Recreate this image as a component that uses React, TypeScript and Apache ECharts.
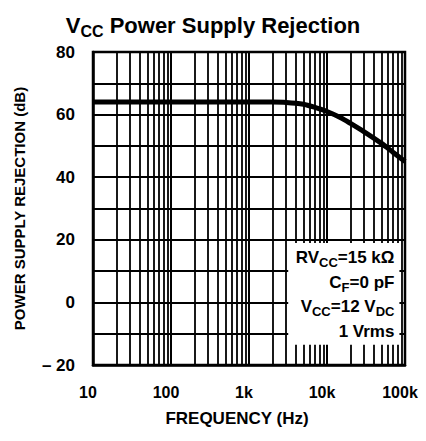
import React, { useEffect, useRef } from 'react';
import * as echarts from 'echarts';

// Curve: Vcc power supply rejection (dB) vs frequency (Hz)
const frequencies = [10, 100, 1000, 2000, 3000, 5000, 7000, 10000, 15000, 20000, 30000, 50000, 70000, 100000];
const rejectionDb = [64, 64, 64, 64, 63.9, 63.3, 62.3, 61, 59, 57.2, 54.5, 50.8, 48, 45];

// X tick labels at decades
const decadeValues = [10, 100, 1000, 10000, 100000];
const decadeLabels = ['10', '100', '1k', '10k', '100k'];

// Minor log grid lines (2..9 of each decade)
const gridDecades = [10, 100, 1000, 10000];
const gridMultipliers = [2, 3, 4, 5, 6, 7, 8, 9];

// Y axis
const yMin = -20;
const yMax = 80;
const yStep = 10;

// Conditions box
const noteLines = [
  '{n|RV}{s|CC}{n|=15 kΩ}',
  '{n|C}{s|F}{n|=0 pF}',
  '{n|V}{s|CC}{n|=12 V}{s|DC}',
  '{n|1 Vrms}',
];

const FONT = "'Liberation Sans', Arial, Helvetica, sans-serif";

export default function App() {
  const ref = useRef<HTMLDivElement>(null);

  useEffect(() => {
    if (!ref.current) return;
    const chart = echarts.init(ref.current, undefined, { renderer: 'svg' });
    const minorFreqs: number[] = [];
    gridDecades.forEach((d) => gridMultipliers.forEach((m) => minorFreqs.push(d * m)));

    chart.setOption({
      animation: false,
      backgroundColor: '#fff',
      title: {
        text: '{v|V}{s|CC}{v| Power Supply Rejection}',
        left: 'center',
        top: 6,
        textStyle: {
          rich: {
            v: { fontSize: 22, fontWeight: 'bold', fontFamily: FONT, color: '#000', lineHeight: 28, verticalAlign: 'middle' },
            s: { fontSize: 16, fontWeight: 'bold', fontFamily: FONT, color: '#000', lineHeight: 16, verticalAlign: 'bottom' },
          },
        },
      },
      grid: {
        left: 93,
        right: 21,
        top: 52,
        bottom: 76,
        show: true,
        borderColor: '#000',
        borderWidth: 2.5,
        backgroundColor: 'transparent',
      },
      xAxis: {
        type: 'log',
        logBase: 10,
        min: 10,
        max: 100000,
        name: 'FREQUENCY (Hz)',
        nameLocation: 'middle',
        nameGap: 45,
        nameTextStyle: { fontFamily: FONT, fontWeight: 'bold', fontSize: 17, color: '#000', padding: [0, 24, 0, 0] },
        axisLine: { show: true, onZero: false, lineStyle: { color: '#000', width: 2.5 } },
        axisTick: { show: false },
        splitLine: { show: true, lineStyle: { color: '#000', width: 2 } },
        axisLabel: {
          margin: 19,
          fontFamily: FONT,
          fontWeight: 'bold',
          fontSize: 16,
          color: '#000',
          padding: [0, 10, 0, 0],
          formatter: (v: number) => {
            const i = decadeValues.findIndex((d) => Math.abs(d - v) / d < 1e-6);
            return i >= 0 ? decadeLabels[i] : '';
          },
        },
      },
      yAxis: {
        type: 'value',
        min: yMin,
        max: yMax,
        interval: yStep,
        name: 'POWER SUPPLY REJECTION (dB)',
        nameLocation: 'middle',
        nameGap: 66,
        nameRotate: 90,
        nameTextStyle: { fontFamily: FONT, fontWeight: 'bold', fontSize: 15, color: '#000' },
        axisLine: { show: true, onZero: false, lineStyle: { color: '#000', width: 2.5 } },
        axisTick: { show: false },
        splitLine: { show: true, lineStyle: { color: '#000', width: 2 } },
        axisLabel: {
          margin: 18,
          fontFamily: FONT,
          fontWeight: 'bold',
          fontSize: 17,
          color: '#000',
          formatter: (v: number) => {
            if (Math.round(v) % 20 !== 0) return '';
            return v < 0 ? '– ' + Math.abs(v) : String(v);
          },
        },
      },
      series: [
        {
          type: 'line',
          data: [],
          z: 1,
          silent: true,
          markLine: {
            silent: true,
            symbol: 'none',
            label: { show: false },
            lineStyle: { color: '#000', width: 1.8, type: 'solid' },
            data: minorFreqs.map((f) => ({ xAxis: f })),
          },
        },
        {
          type: 'line',
          z: 4,
          data: frequencies.map((f, i) => [f, rejectionDb[i]]),
          smooth: 0.3,
          showSymbol: false,
          lineStyle: { color: '#000', width: 5 },
        },
      ],
    });

    const tl = chart.convertToPixel({ gridIndex: 0 }, [3000, 19]) as number[];
    const br = chart.convertToPixel({ gridIndex: 0 }, [90000, -13.5]) as number[];
    const bx = tl[0] + 2;
    const by = tl[1];
    const bw = br[0] - 2 - bx;
    const bh = br[1] - by;
    const rowOffsets = [15, 40, 64, 89];
    const richStyles = {
      n: { fontSize: 17, fontWeight: 'bold', fontFamily: FONT, fill: '#000', lineHeight: 22, verticalAlign: 'middle' },
      s: { fontSize: 13, fontWeight: 'bold', fontFamily: FONT, fill: '#000', lineHeight: 12, verticalAlign: 'bottom' },
    };
    chart.setOption({
      graphic: [
        {
          type: 'rect',
          z: 10,
          shape: { x: bx, y: by, width: bw, height: bh },
          style: { fill: '#fff', stroke: 'none' },
        },
        ...noteLines.map((t, i) => ({
          type: 'text',
          z: 11,
          x: bx + bw - 5,
          y: by + rowOffsets[i],
          style: {
            text: t,
            align: 'right',
            verticalAlign: 'middle',
            fill: '#000',
            rich: richStyles,
          },
        })),
      ],
    });

    return () => chart.dispose();
  }, []);

  return <div ref={ref} style={{ position: 'fixed', left: 0, top: 0, width: 426, height: 441 }} />;
}
